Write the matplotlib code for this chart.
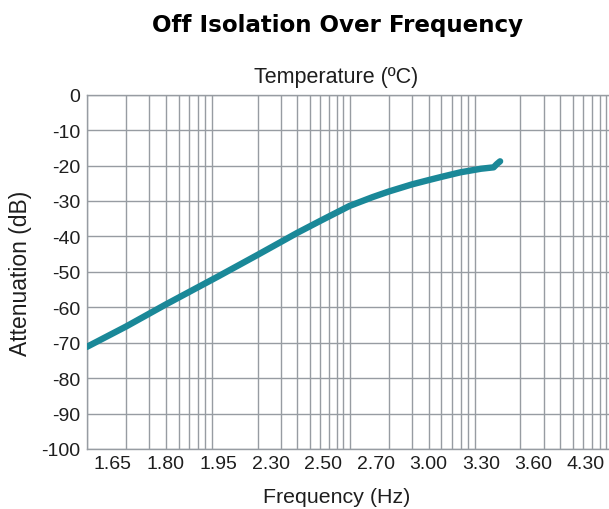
import numpy as np
import matplotlib
matplotlib.use("Agg")
import matplotlib.pyplot as plt
from matplotlib.ticker import LogLocator, NullFormatter, FixedLocator, FixedFormatter

# ---- data ----
freq = [1, 2, 4, 10, 20, 40, 60, 100, 150, 200, 300, 400, 500, 700, 1000, 1250, 1320, 1400]
atten_db = [-71.2, -65.4, -59.2, -51.3, -45.2, -39.0, -35.6, -31.4, -28.9, -27.3, -25.3,
            -24.1, -23.2, -21.9, -20.9, -20.5, -19.6, -18.8]
tick_labels = ["1.65", "1.80", "1.95", "2.30", "2.50", "2.70", "3.00", "3.30", "3.60", "4.30"]
y_ticks = [0, -10, -20, -30, -40, -50, -60, -70, -80, -90, -100]

title = "Off Isolation Over Frequency"
subtitle = "Temperature (ºC)"
xlabel = "Frequency (Hz)"
ylabel = "Attenuation (dB)"

plt.rcParams['font.family'] = ['Liberation Sans', 'DejaVu Sans']

W, H = 609, 510
fig = plt.figure(figsize=(W / 100, H / 100), dpi=100)

# axes in pixel coords (extends slightly past the right edge like the reference)
left_px, right_px, top_px, bottom_px = 86.7, 612.3, 95.7, 450.0
ax = fig.add_axes([left_px / W, 1 - bottom_px / H,
                   (right_px - left_px) / W, (bottom_px - top_px) / H])

line_color = "#1a8898"
grid_color = "#979ca2"
text_color = "#1e1e1e"

ax.plot(freq, atten_db, color=line_color, lw=4.6, solid_capstyle="round",
        solid_joinstyle="round", zorder=3)

ax.set_xscale("log")
ax.set_xlim(1, 10000)
ax.set_ylim(-100, 0)

# minor log grid (x) and major grid (y)
ax.xaxis.set_minor_locator(LogLocator(base=10, subs=np.arange(1, 10), numticks=50))
ax.xaxis.set_minor_formatter(NullFormatter())
tick_pos = [10 ** (0.2 + 0.4 * i) for i in range(len(tick_labels))]
ax.xaxis.set_major_locator(FixedLocator(tick_pos))
ax.xaxis.set_major_formatter(FixedFormatter(tick_labels))
ax.set_yticks(y_ticks)
ax.set_yticklabels([str(v) for v in y_ticks])

ax.grid(False)
ax.grid(True, which="minor", axis="x", color=grid_color, lw=1.0)
ax.grid(True, which="major", axis="y", color=grid_color, lw=1.0)
ax.set_axisbelow(True)

ax.tick_params(axis="both", which="both", length=0, labelsize=14, colors=text_color)
ax.tick_params(axis="x", pad=4.5)
ax.tick_params(axis="y", pad=4.8)

for s in ax.spines.values():
    s.set_color(grid_color)
    s.set_linewidth(1.0)

fig.text(338 / W, 1 - 31.7 / H, title, ha="center", va="baseline",
         fontsize=16.6, fontweight="bold", color="black", family="DejaVu Sans")
fig.text(336 / W, 1 - 83.3 / H, subtitle, ha="center", va="baseline",
         fontsize=15.5, color=text_color)
fig.text(337 / W, 1 - 503 / H, xlabel, ha="center", va="baseline",
         fontsize=15.4, color=text_color)
fig.text(21 / W, 1 - 273 / H, ylabel, ha="center", va="center", rotation=90,
         fontsize=16.5, color=text_color)

fig.savefig("out.png", dpi=100)
